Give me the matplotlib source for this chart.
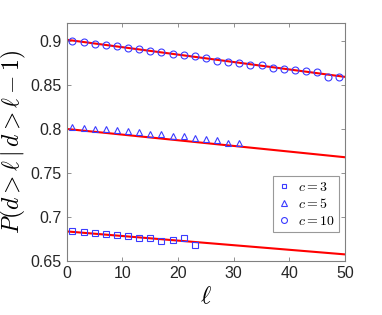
import matplotlib
matplotlib.use("Agg")
import matplotlib.pyplot as plt
import numpy as np

plt.rcParams['mathtext.fontset'] = 'cm'
plt.rcParams['font.family'] = ['Liberation Sans', 'DejaVu Sans']

# data
l3 = [1, 3, 5, 7, 9, 11, 13, 15, 17, 19, 21, 23]
p3 = [0.685, 0.6835, 0.6818, 0.6815, 0.680, 0.6788, 0.6768, 0.6771, 0.6729, 0.674, 0.6768, 0.6685]

l5 = [1, 3, 5, 7, 9, 11, 13, 15, 17, 19, 21, 23, 25, 27, 29, 31]
p5 = [0.8025, 0.8015, 0.8005, 0.7998, 0.7985, 0.7975, 0.7962, 0.7943, 0.794, 0.7924, 0.792, 0.790,
      0.789, 0.7878, 0.7845, 0.7842]

l10 = [1, 3, 5, 7, 9, 11, 13, 15, 17, 19, 21, 23, 25, 27, 29, 31, 33, 35, 37, 39, 41, 43, 45, 47, 49]
p10 = [0.900, 0.8985, 0.8966, 0.8954, 0.894, 0.892, 0.890, 0.8886, 0.887, 0.8852, 0.8832, 0.8829,
       0.880, 0.877, 0.876, 0.8745, 0.873, 0.872, 0.869, 0.868, 0.8666, 0.8654, 0.864, 0.859, 0.859]

fit_l = [0, 50]
fit3 = [0.684, 0.658]
fit5 = [0.800, 0.768]
fit10 = [0.901, 0.859]

xticks = [0, 10, 20, 30, 40, 50]
yticks = [0.65, 0.7, 0.75, 0.8, 0.85, 0.9]

fig = plt.figure(figsize=(3.82, 3.15), dpi=100)
ax = fig.add_axes([0.175, 0.170, 0.728, 0.757])

red = '#ff0000'
blue = '#3b3bff'
for fv in (fit3, fit5, fit10):
    ax.plot(fit_l, fv, color=red, lw=1.5, zorder=2)

ax.plot(l3, p3, 's', mfc='none', mec=blue, ms=4.2, mew=0.8, label='$c=3$', zorder=3)
ax.plot(l5, p5, '^', mfc='none', mec=blue, ms=5, mew=0.8, label='$c=5$', zorder=3)
ax.plot(l10, p10, 'o', mfc='none', mec=blue, ms=5, mew=0.8, label='$c=10$', zorder=3)

ax.set_xlim(0, 50)
ax.set_ylim(0.65, 0.92)
ax.set_xticks(xticks)
ax.set_yticks(yticks)
ax.set_yticklabels(['0.65', '0.7', '0.75', '0.8', '0.85', '0.9'])
gray = '#808080'
for s in ax.spines.values():
    s.set_color(gray)
    s.set_linewidth(0.8)
ax.tick_params(direction='in', top=True, right=True, length=3, width=0.6, color=gray,
               labelsize=11.5, labelcolor='#262626')

ax.set_xlabel(r'$\ell$', fontsize=18, labelpad=2)
ax.set_ylabel(r'$P(d>\ell\mid d>\ell-1)$', fontsize=17, labelpad=2)

leg = ax.legend(loc='lower right', bbox_to_anchor=(0.978, 0.124), fontsize=10, frameon=True,
                fancybox=False, edgecolor=gray, handlelength=1.0, handletextpad=0.5,
                borderpad=0.3, labelspacing=0.2, borderaxespad=0, markerscale=0.85)
leg.get_frame().set_linewidth(0.8)

fig.savefig('out.png', dpi=100)
